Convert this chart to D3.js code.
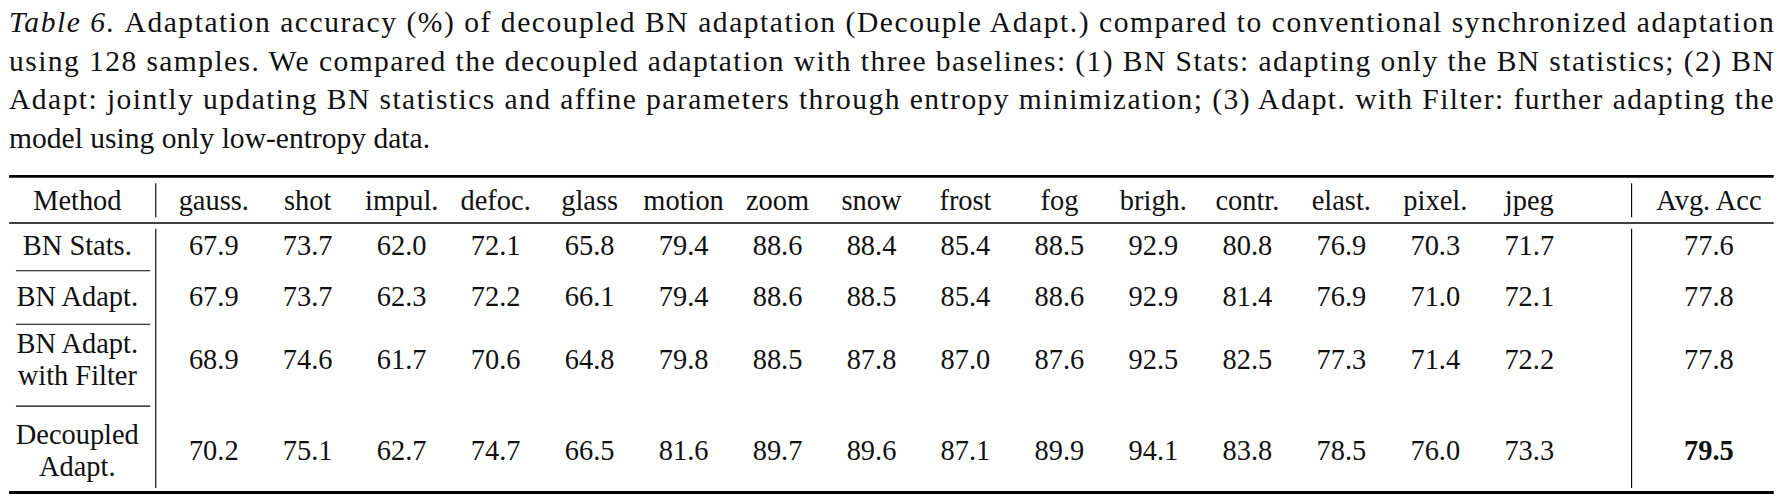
<!DOCTYPE html>
<html><head><meta charset="utf-8">
<script src="https://cdn.jsdelivr.net/npm/d3@7"></script>
<style>body{margin:0;background:#fff}svg{font-family:"Liberation Serif","DejaVu Serif",serif;display:block}</style>
</head><body><div id="chart"></div>
<script>
const columns = ['gauss.','shot','impul.','defoc.','glass','motion','zoom','snow','frost','fog','brigh.','contr.','elast.','pixel.','jpeg']
const methods = [['BN Stats.'],['BN Adapt.'],['BN Adapt.','with Filter'],['Decoupled','Adapt.']]
const values = [
  [67.9,73.7,62.0,72.1,65.8,79.4,88.6,88.4,85.4,88.5,92.9,80.8,76.9,70.3,71.7],
  [67.9,73.7,62.3,72.2,66.1,79.4,88.6,88.5,85.4,88.6,92.9,81.4,76.9,71.0,72.1],
  [68.9,74.6,61.7,70.6,64.8,79.8,88.5,87.8,87.0,87.6,92.5,82.5,77.3,71.4,72.2],
  [70.2,75.1,62.7,74.7,66.5,81.6,89.7,89.6,87.1,89.9,94.1,83.8,78.5,76.0,73.3]
]
const avgAcc = [77.6,77.8,77.8,79.5]
const caption = [
  'Adaptation accuracy (%) of decoupled BN adaptation (Decouple Adapt.) compared to conventional synchronized adaptation',
  'using 128 samples. We compared the decoupled adaptation with three baselines: (1) BN Stats: adapting only the BN statistics; (2) BN',
  'Adapt: jointly updating BN statistics and affine parameters through entropy minimization; (3) Adapt. with Filter: further adapting the',
  'model using only low-entropy data.'
]

const W = 1776, H = 504
// layout units are measured at 1562 wide
const svg = d3.select('#chart').append('svg').attr('width', W).attr('height', H)
  .attr('viewBox', '0 0 1562 443')

caption.forEach((line, i) => {
  const t = svg.append('text').attr('x', 8).attr('y', 28 + i * 34)
    .attr('font-size', 26).attr('fill', '#111')
  if (i == 0) t.append('tspan').attr('font-style', 'italic').text('Table 6. ')
  t.append('tspan').text(line)
  if (i < caption.length - 1) t.attr('textLength', 1552).attr('lengthAdjust', 'spacing')
})

const x = d3.scalePoint().domain(columns).range([188, 1345])
const methodX = 68, avgX = 1503
const rowY = [216, 261, 316, 396]
const rowSep = [238, 285, 357]

const fs = 25
svg.append('line').attr('x1', 8).attr('x2', 1560).attr('y1', 155).attr('y2', 155).attr('stroke', '#000').attr('stroke-width', 2.5)
svg.append('line').attr('x1', 8).attr('x2', 1560).attr('y1', 196).attr('y2', 196).attr('stroke', '#000').attr('stroke-width', 1.2)
svg.append('line').attr('x1', 8).attr('x2', 1560).attr('y1', 433).attr('y2', 433).attr('stroke', '#000').attr('stroke-width', 2.5)
rowSep.forEach(y => svg.append('line').attr('x1', 14).attr('x2', 132).attr('y1', y).attr('y2', y).attr('stroke', '#000').attr('stroke-width', 1))
;[137, 1435].forEach(vx => {
  svg.append('line').attr('x1', vx).attr('x2', vx).attr('y1', 161).attr('y2', 191).attr('stroke', '#000')
  svg.append('line').attr('x1', vx).attr('x2', vx).attr('y1', 201).attr('y2', 429).attr('stroke', '#000')
})

const cell = (cx, cy, txt, bold) => svg.append('text').attr('x', cx).attr('y', cy)
  .attr('text-anchor', 'middle').attr('dominant-baseline', 'central')
  .attr('font-size', fs).attr('font-weight', bold ? 'bold' : null).attr('fill', '#111').text(txt)

cell(methodX, 176, 'Method')
columns.forEach(c => cell(x(c), 176, c))
cell(avgX, 176, 'Avg. Acc')

methods.forEach((m, i) => {
  m.forEach((l, j) => cell(methodX, rowY[i] + (j - (m.length - 1) / 2) * 28, l))
  values[i].forEach((v, k) => cell(x(columns[k]), rowY[i], v.toFixed(1)))
  cell(avgX, rowY[i], avgAcc[i].toFixed(1), i == 3)
})
</script></body></html>
